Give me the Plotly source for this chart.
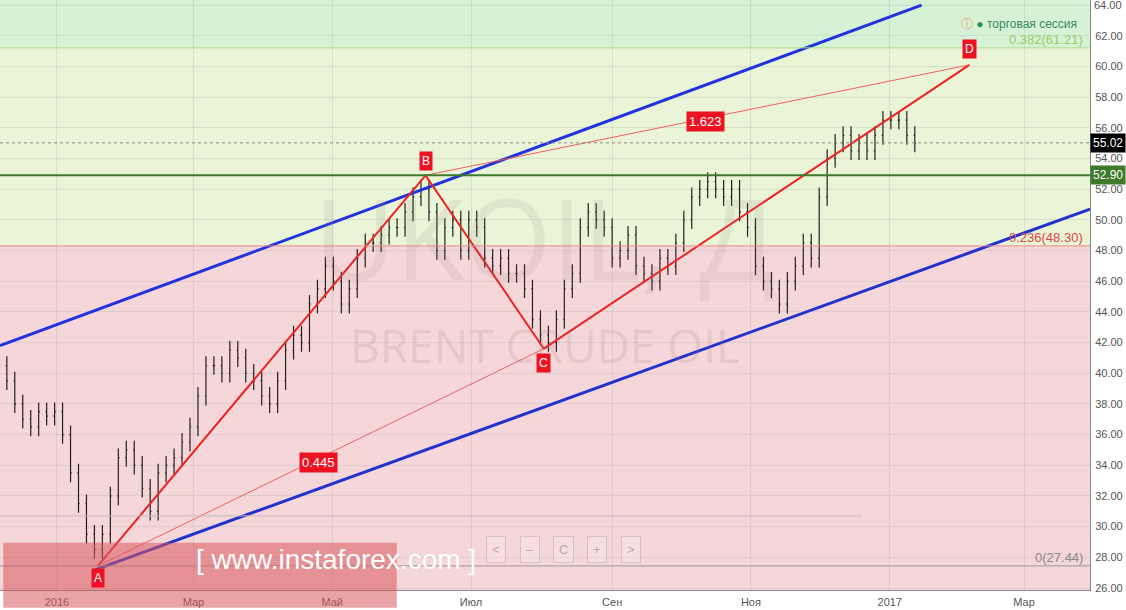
import pandas as pd
import plotly.graph_objects as go

# half-weekly bars, Brent (UKOIL) Dec 2015 - Jan 2017
bar_start = "2015-12-03"
closes = [41.5, 40.5, 39.5, 38.0, 37.0, 36.5, 37.5, 37.2, 37.5, 36.0,
          33.5, 31.5, 29.5, 28.5, 29.5, 32.0, 34.5, 35.0, 34.0, 32.5,
          31.0, 33.5, 34.0, 34.5, 35.5, 36.5, 38.5, 40.5, 40.5, 40.0,
          41.5, 41.0, 40.0, 39.5, 38.5, 38.0, 39.5, 41.5, 42.5, 42.0,
          44.5, 45.5, 47.0, 46.0, 44.5, 45.5, 47.5, 48.5, 48.5, 49.0,
          49.5, 49.5, 50.5, 51.5, 52.0, 50.5, 48.0, 49.5, 50.0, 48.0,
          50.0, 49.5, 47.5, 47.0, 47.5, 46.5, 46.5, 45.5, 43.5, 42.5,
          42.0, 43.5, 45.5, 46.5, 49.5, 50.5, 50.0, 49.5, 47.5, 48.0,
          49.0, 47.0, 46.5, 46.0, 47.5, 47.0, 48.5, 50.0, 51.5, 52.0,
          52.5, 52.0, 51.5, 52.0, 50.5, 49.5, 47.0, 46.0, 45.5, 44.5,
          46.0, 47.0, 48.5, 47.5, 51.5, 54.0, 55.0, 55.5, 54.5, 55.0,
          54.5, 55.5, 56.5, 56.5, 56.5, 55.5, 55.0]
bar_dates = pd.date_range(bar_start, periods=len(closes), freq="84h")
opens = [41.8] + closes[:-1]
wick = 0.6
highs = [max(o, c) + wick for o, c in zip(opens, closes)]
lows = [min(o, c) - wick for o, c in zip(opens, closes)]

# pattern points A B C D
abcd_names = ["A", "B", "C", "D"]
abcd_dates = ["2016-01-19", "2016-06-11", "2016-08-02", "2017-02-05"]
abcd_prices = [27.44, 52.90, 41.60, 60.10]

# channel lines
upper_dates = ["2015-12-07", "2017-01-15"]
upper_prices = [41.8, 64.0]
lower_dates = ["2016-01-18", "2017-03-30"]
lower_prices = [27.2, 50.7]

fib_levels = [61.21, 48.30, 27.44]
last_price = 55.02
support = 52.90

x0, x1 = "2015-12-07", "2017-03-30"
y0, y1 = 25.87, 64.33

fig = go.Figure()

# background zones
zones = [(61.21, y1, "#d6f2d6"), (48.30, 61.21, "#eaf4d6"), (y0, 48.30, "#f5d6d9")]
for lo, hi, col in zones:
    fig.add_shape(type="rect", xref="paper", x0=0, x1=1, y0=lo, y1=hi,
                  fillcolor=col, line_width=0, layer="below")
fig.add_hline(y=61.21, line=dict(color="#a8dc80", width=1))
fig.add_hline(y=48.30, line=dict(color="#e88a8a", width=1))
fig.add_hline(y=27.44, line=dict(color="#999999", width=1))
fig.add_shape(type="line", x0=x0, x1="2016-12-20", y0=30.7, y1=30.7,
              line=dict(color="#c8b8c0", width=1))
fig.add_hline(y=last_price, line=dict(color="#888888", width=1, dash="dot"))
fig.add_hline(y=support, line=dict(color="#3d7a2a", width=2))

# watermark
fig.add_annotation(x=0.5, y=0.6, xref="paper", yref="paper", text="UKOIL, Д",
                   showarrow=False, font=dict(size=112, color="rgba(150,120,120,0.12)", family="Open Sans"))
fig.add_annotation(x=0.5, y=0.415, xref="paper", yref="paper", text="BRENT CRUDE OIL",
                   showarrow=False, font=dict(size=46, color="rgba(150,120,120,0.17)", family="Open Sans"))

fig.add_trace(go.Ohlc(x=bar_dates, open=opens, high=highs, low=lows, close=closes,
                      increasing_line_color="#222222", decreasing_line_color="#222222",
                      line_width=1.2, tickwidth=0.15, showlegend=False))

# channel
fig.add_trace(go.Scatter(x=upper_dates, y=upper_prices, mode="lines",
                         line=dict(color="#2233dd", width=3), showlegend=False))
fig.add_trace(go.Scatter(x=lower_dates, y=lower_prices, mode="lines",
                         line=dict(color="#2233cc", width=3), showlegend=False))

# ABCD
fig.add_trace(go.Scatter(x=abcd_dates, y=abcd_prices, mode="lines",
                         line=dict(color="#ee2222", width=2), showlegend=False))
fig.add_trace(go.Scatter(x=[abcd_dates[0], abcd_dates[2]], y=[abcd_prices[0], abcd_prices[2]],
                         mode="lines", line=dict(color="#f06060", width=1), showlegend=False))
fig.add_trace(go.Scatter(x=[abcd_dates[1], abcd_dates[3]], y=[abcd_prices[1], abcd_prices[3]],
                         mode="lines", line=dict(color="#f06060", width=1), showlegend=False))

label_shift = [-12, 14, -14, 16]
for n, d, p, s in zip(abcd_names, abcd_dates, abcd_prices, label_shift):
    fig.add_annotation(x=d, y=p, text=n, showarrow=False, yshift=s,
                       font=dict(color="white", size=12, family="Arial"),
                       bgcolor="#ee1122", borderpad=2)

ratio_texts = ["1.623", "0.445"]
ratio_dates = ["2016-10-12", "2016-04-25"]
ratio_prices = [56.4, 34.2]
for t, d, p in zip(ratio_texts, ratio_dates, ratio_prices):
    fig.add_annotation(x=d, y=p, text=t, showarrow=False,
                       font=dict(color="white", size=13, family="Arial"),
                       bgcolor="#ee1122", borderpad=2)

fib_texts = ["0.382(61.21)", "0.236(48.30)", "0(27.44)"]
fib_colors = ["#99cc66", "#dd4444", "#888888"]
for t, lv, c in zip(fib_texts, fib_levels, fib_colors):
    fig.add_annotation(x=0.995, xref="paper", y=lv, yshift=-1, xanchor="right", yanchor="bottom",
                       text=t, showarrow=False, font=dict(color=c, size=13, family="Arial"))

# price tags on right axis (64.00 label is cut by plotly at the edge, draw it as text)
fig.add_annotation(x=1.0, xref="paper", y=64.0, xanchor="left", xshift=2, text="64.00",
                   showarrow=False, font=dict(color="#555555", size=11, family="Arial"))
for v, bg in [(last_price, "#000000"), (support, "#3d7a2a")]:
    fig.add_annotation(x=1.0, xref="paper", y=v, xanchor="left", text=f"{v:.2f}",
                       showarrow=False, bgcolor=bg, font=dict(color="white", size=12, family="Arial"),
                       borderpad=2)

fig.add_annotation(x=0.99, xref="paper", y=0.975, yref="paper", xanchor="right",
                   text="<span style='color:#f0a070'>ⓘ</span> <span style='color:#2e8b57'>●</span> торговая сессия",
                   showarrow=False, font=dict(color="#3a8a5a", size=12, family="Arial"))

# instaforex banner
fig.add_shape(type="rect", xref="paper", yref="paper", x0=0.003, x1=0.364, y0=-0.03, y1=0.08,
              fillcolor="rgba(215,90,95,0.55)", line_width=0)
fig.add_annotation(x=0.178, y=0.022, xref="paper", yref="paper", text="[ www.instaforex.com ]",
                   showarrow=False, font=dict(color="white", size=28, family="Arial"))

# navigation buttons
for i, sym in enumerate(["<", "–", "C", "+", ">"]):
    fig.add_annotation(x=0.455 + i * 0.031, y=0.045, xref="paper", yref="paper", text=sym,
                       showarrow=False, font=dict(color="#c0a8a8", size=13),
                       bordercolor="#d8c0c0", borderwidth=1, borderpad=5, bgcolor="rgba(255,255,255,0.2)")

fig.update_layout(
    width=1126, height=610, margin=dict(l=0, r=36, t=0, b=20, autoexpand=False),
    plot_bgcolor="white", paper_bgcolor="white",
    font=dict(family="Arial", size=11, color="#555555"),
    showlegend=False,
)
fig.update_xaxes(range=[x0, x1], rangeslider_visible=False, showgrid=True, gridcolor="rgba(180,180,180,0.35)",
                 tickvals=["2016-01-01", "2016-03-01", "2016-05-01", "2016-07-01", "2016-09-01",
                           "2016-11-01", "2017-01-01", "2017-03-01"],
                 ticktext=["2016", "Мар", "Май", "Июл", "Сен", "Ноя", "2017", "Мар"],
                 showline=True, linecolor="#888888", ticks="", ticklabelstandoff=2)
fig.update_yaxes(range=[y0, y1], side="right", dtick=2, tickformat=".2f", showgrid=True,
                 gridcolor="rgba(180,180,180,0.35)", showline=True, linecolor="#888888", zeroline=False,
                 ticklabelstandoff=2)

fig.write_html("out.html", config={"displayModeBar": False},
               post_script="document.body.style.margin='0';")
